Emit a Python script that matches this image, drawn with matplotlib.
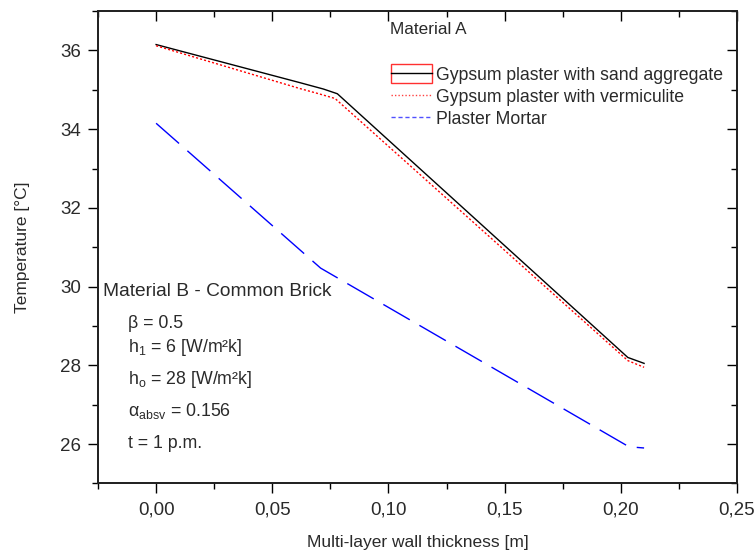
import matplotlib
matplotlib.use("Agg")
import matplotlib.pyplot as plt
from matplotlib.lines import Line2D
from matplotlib.patches import Rectangle
from matplotlib.legend_handler import HandlerBase
from matplotlib.ticker import MultipleLocator

plt.rcParams['font.family'] = ['Liberation Sans', 'DejaVu Sans']
plt.rcParams['mathtext.fontset'] = 'custom'
plt.rcParams['mathtext.rm'] = 'Liberation Sans'
plt.rcParams['mathtext.it'] = 'Liberation Sans'

# temperature profiles through the wall (x in m, T in degC)
x_sand = [0.0, 0.062, 0.072, 0.078, 0.203, 0.21]
t_sand = [36.15, 35.18, 35.02, 34.9, 28.2, 28.05]

x_verm = [0.0, 0.062, 0.07, 0.077, 0.203, 0.21]
t_verm = [36.12, 35.03, 34.9, 34.78, 28.12, 27.95]

x_mortar = [0.0, 0.0708, 0.2035, 0.21]
t_mortar = [34.15, 30.47, 25.93, 25.9]

series_names = ['Gypsum plaster with sand aggregate',
                'Gypsum plaster with vermiculite',
                'Plaster Mortar']

xticks = [0.0, 0.05, 0.10, 0.15, 0.20, 0.25]
xtick_labels = ['0,00', '0,05', '0,10', '0,15', '0,20', '0,25']
yticks = [26, 28, 30, 32, 34, 36]

TXT = '#2a2a2a'


class BoxedLine(HandlerBase):
    # black line inside a red frame
    def create_artists(self, legend, orig, xd, yd, w, h, fs, trans):
        hh = fs * 1.1
        yc = -yd + h / 2
        box = Rectangle((-xd, yc - hh / 2), w, hh, fill=False,
                        edgecolor='#ff3030', lw=1.0, transform=trans)
        ln = Line2D([-xd, -xd + w], [yc, yc], color='black', lw=1.0,
                    transform=trans)
        return [box, ln]


def inner_ticks(a):
    a.tick_params(which='both', direction='in', labeltop=False,
                  labelright=False, labelbottom=False, labelleft=False,
                  width=1.0)
    a.tick_params(which='major', length=7)
    a.tick_params(which='minor', length=4)


fig = plt.figure(figsize=(7.54, 5.55), dpi=100)
ax = fig.add_axes([0.130, 0.129, 0.8475, 0.851])

ax.plot(x_sand, t_sand, color='black', lw=1.0)
ax.plot(x_verm, t_verm, color='red', lw=1.0, linestyle=(0, (1.5, 1.5)))
ax.plot(x_mortar, t_mortar, color='blue', lw=1.0, linestyle=(0, (22, 8)))

ax.set_xlim(-0.025, 0.25)
ax.set_ylim(25, 37)
ax.set_xticks(xticks)
ax.set_xticklabels(xtick_labels)
ax.set_yticks(yticks)
ax.xaxis.set_minor_locator(MultipleLocator(0.025))
ax.yaxis.set_minor_locator(MultipleLocator(1))

ax.tick_params(which='both', direction='out', top=False, right=False,
               labelsize=13.5, labelcolor=TXT, width=1.0)
ax.tick_params(which='major', length=7)
ax.tick_params(which='minor', length=4)
ax.tick_params(axis='x', pad=6)
ax.tick_params(axis='y', pad=5)

# inward ticks on the top and right edges
tx = ax.twiny()
tx.set_xlim(ax.get_xlim())
tx.set_xticks(xticks)
tx.xaxis.set_minor_locator(MultipleLocator(0.025))
inner_ticks(tx)
ty = ax.twinx()
ty.set_ylim(ax.get_ylim())
ty.set_yticks(yticks)
ty.yaxis.set_minor_locator(MultipleLocator(1))
inner_ticks(ty)

for a in (ax, tx, ty):
    for s in a.spines.values():
        s.set_linewidth(1.1)
        s.set_color('#222222')

ax.set_xlabel('Multi-layer wall thickness [m]', fontsize=12.5, color=TXT,
              labelpad=12)
ax.set_ylabel('Temperature [°C]', fontsize=12.5, color=TXT, labelpad=22)

handles = [Line2D([], [], color='black'),
           Line2D([], [], color='#ff4040', lw=1.0, linestyle=(0, (1, 1.5))),
           Line2D([], [], color='#5050ff', lw=1.0, linestyle=(0, (3, 2)))]
leg = ax.legend(handles, series_names, loc='upper left',
                bbox_to_anchor=(0.433, 0.916), frameon=False,
                fontsize=12.7, handlelength=2.35, handletextpad=0.25,
                labelspacing=0.28, handler_map={handles[0]: BoxedLine()})
for t in leg.get_texts():
    t.set_color(TXT)

ax.text(0.457, 0.951, 'Material A', transform=ax.transAxes, fontsize=12.3,
        color=TXT, va='baseline')

ax.text(0.008, 0.3967, 'Material B - Common Brick', transform=ax.transAxes,
        fontsize=13.8, color=TXT, va='baseline')
params = ['β = 0.5',
          r'h$_{1}$ = 6 [W/m²k]',
          r'h$_{\rm o}$ = 28 [W/m²k]',
          r'α$_{\rm absv}$ = 0.156',
          't = 1 p.m.']
param_y = [0.3283, 0.2788, 0.2098, 0.1433, 0.0743]
for s, yy in zip(params, param_y):
    ax.text(0.047, yy, s, transform=ax.transAxes, fontsize=12.8,
            color=TXT, va='baseline')

fig.savefig('out.png', dpi=100)
